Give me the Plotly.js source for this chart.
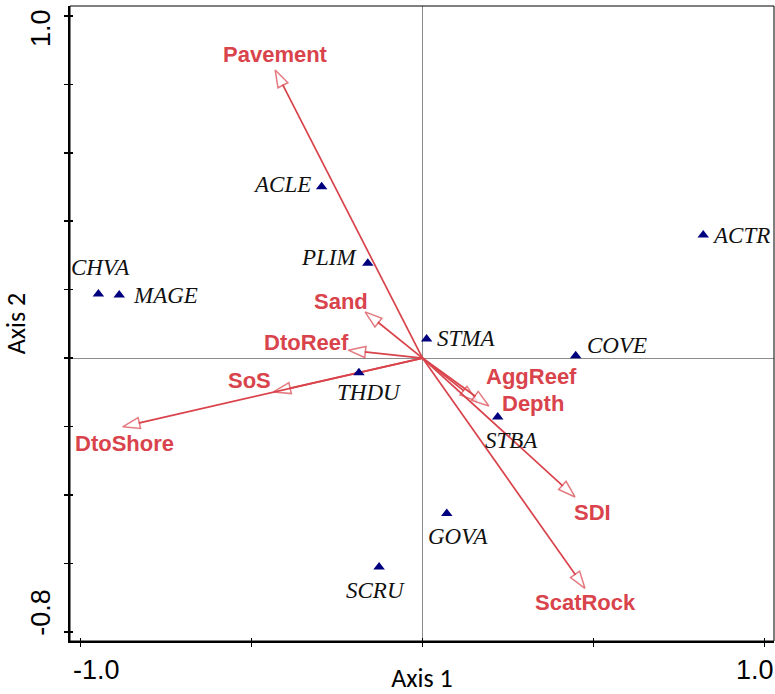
<!DOCTYPE html>
<html><head><meta charset="utf-8">
<script src="https://cdn.plot.ly/plotly-3.0.1.min.js"></script>
<style>html,body{margin:0;padding:0;background:#fff}#chart{width:775px;height:694px}</style>
</head><body><div id="chart"></div>
<script>
// Species scores
const species = ['ACLE','PLIM','CHVA','MAGE','STMA','COVE','ACTR','THDU','STBA','GOVA','SCRU'];
const speciesX = [-0.295,-0.160,-0.948,-0.887,0.012,0.448,0.821,-0.186,0.220,0.071,-0.127];
const speciesY = [0.501,0.277,0.187,0.184,0.056,0.007,0.360,-0.043,-0.172,-0.454,-0.611];
// Environmental variable vectors
const variables = ['Pavement','Sand','DtoReef','SoS','DtoShore','AggReef','Depth','SDI','ScatRock'];
const varX = [-0.431,-0.168,-0.217,-0.436,-0.877,0.159,0.194,0.446,0.475];
const varY = [0.842,0.135,0.023,-0.099,-0.201,-0.126,-0.140,-0.406,-0.673];
// Ticks
const xTickVals = [-1,-0.5,0,0.5,1];
const yTickVals = [-0.8,-0.6,-0.4,-0.2,0,0.2,0.4,0.6,0.8,1.0];
const xLabelVals = [-1,1];
const xLabelText = ['-1.0','1.0'];
const yLabelVals = [1.0,-0.8];
const yLabelText = ['1.0','-0.8'];

// styling (pixel offsets for labels)
const speciesShift = [[-40,2],[-38,6],[2,27],[46,0],[39,0],[41,10],[38,-1],[10,-20],[14,-24],[12,-23],[-4,-23]];
const varShift = [[0,15],[-24,10],[-42,8],[-24,11],[2,-17],[55,25],[44,2],[17,-16],[1,-14]];
const xLabelShift = [16,-9];
const yLabelShift = [-12,19];
const RED = '#d9434b';
const XR = [-1.031,1.028], YR = [-0.827,1.029];

const traces = [];
variables.forEach((v,i)=>{
  traces.push({
    type:'scatter', mode:'lines+markers', x:[0,varX[i]], y:[0,varY[i]],
    line:{color:RED,width:1.7},
    marker:{symbol:'arrow',angleref:'previous',size:[0,18],color:'white',line:{color:RED,width:1.5}},
    hoverinfo:'skip', showlegend:false, cliponaxis:false
  });
});
traces.push({
  type:'scatter', mode:'markers', x:speciesX, y:speciesY, text:species,
  marker:{symbol:'triangle-up',size:10,color:'#00007f'},
  hoverinfo:'text', showlegend:false
});
traces.push({type:'scatter',mode:'markers',x:[0],y:[0],xaxis:'x2',yaxis:'y2',marker:{opacity:0},hoverinfo:'skip',showlegend:false});

const annotations = [];
species.forEach((s,i)=>{
  annotations.push({x:speciesX[i],y:speciesY[i],text:s,showarrow:false,xanchor:'center',yanchor:'middle',
    xshift:speciesShift[i][0],yshift:speciesShift[i][1],
    font:{family:'Liberation Serif, Times New Roman, serif',size:23,color:'#111',style:'italic'}});
});
variables.forEach((v,i)=>{
  annotations.push({x:varX[i],y:varY[i],text:'<b>'+v+'</b>',showarrow:false,xanchor:'center',yanchor:'middle',
    xshift:varShift[i][0],yshift:varShift[i][1],
    font:{family:'Liberation Sans, Arial, sans-serif',size:22,color:RED}});
});
xLabelVals.forEach((v,i)=>{
  annotations.push({x:v,xref:'x',y:0,yref:'paper',text:xLabelText[i],showarrow:false,xanchor:'center',yanchor:'middle',
    xshift:xLabelShift[i],yshift:-29,font:{family:'Liberation Sans, Arial, sans-serif',size:27,color:'#000'}});
});
yLabelVals.forEach((v,i)=>{
  annotations.push({x:0,xref:'paper',y:v,yref:'y',text:yLabelText[i],showarrow:false,textangle:-90,xanchor:'center',yanchor:'middle',
    xshift:-29,yshift:yLabelShift[i],font:{family:'Liberation Sans, Arial, sans-serif',size:27,color:'#000'}});
});

const layout = {
  width:775, height:694,
  margin:{l:70,r:1,t:6,b:53},
  paper_bgcolor:'#fff', plot_bgcolor:'#fff',
  xaxis:{range:XR,tickvals:xTickVals,showticklabels:false,ticks:'outside',ticklen:4,tickwidth:1.5,tickcolor:'#000',
    showline:true,linecolor:'#000',linewidth:2,showgrid:false,zeroline:true,zerolinecolor:'#8c8c8c',zerolinewidth:1,
    title:{text:'Axis 1',standoff:28,font:{family:'Carlito, Lato, sans-serif',size:26,color:'#000'}}},
  yaxis:{range:YR,tickvals:yTickVals,showticklabels:false,ticks:'outside',ticklen:4,tickwidth:1.5,tickcolor:'#000',
    showline:true,linecolor:'#000',linewidth:2,showgrid:false,zeroline:true,zerolinecolor:'#8c8c8c',zerolinewidth:1,
    title:{text:'Axis 2',standoff:40,font:{family:'Carlito, Lato, sans-serif',size:26,color:'#000'}}},
  xaxis2:{overlaying:'x',anchor:'y',side:'bottom',range:XR,tickvals:xTickVals,showticklabels:false,ticks:'inside',ticklen:3,tickwidth:1.5,tickcolor:'#000',
    showline:false,showgrid:false,zeroline:false},
  yaxis2:{overlaying:'y',anchor:'x',side:'left',range:YR,tickvals:yTickVals,showticklabels:false,ticks:'inside',ticklen:3,tickwidth:1.5,tickcolor:'#000',
    showline:false,showgrid:false,zeroline:false},
  shapes:[{type:'rect',xref:'paper',yref:'paper',x0:0,x1:1,y0:0,y1:1,line:{color:'#000',width:1}}],
  annotations:annotations,
  showlegend:false
};
Plotly.newPlot('chart',traces,layout,{displayModeBar:false,staticPlot:true});
</script>
</body></html>
